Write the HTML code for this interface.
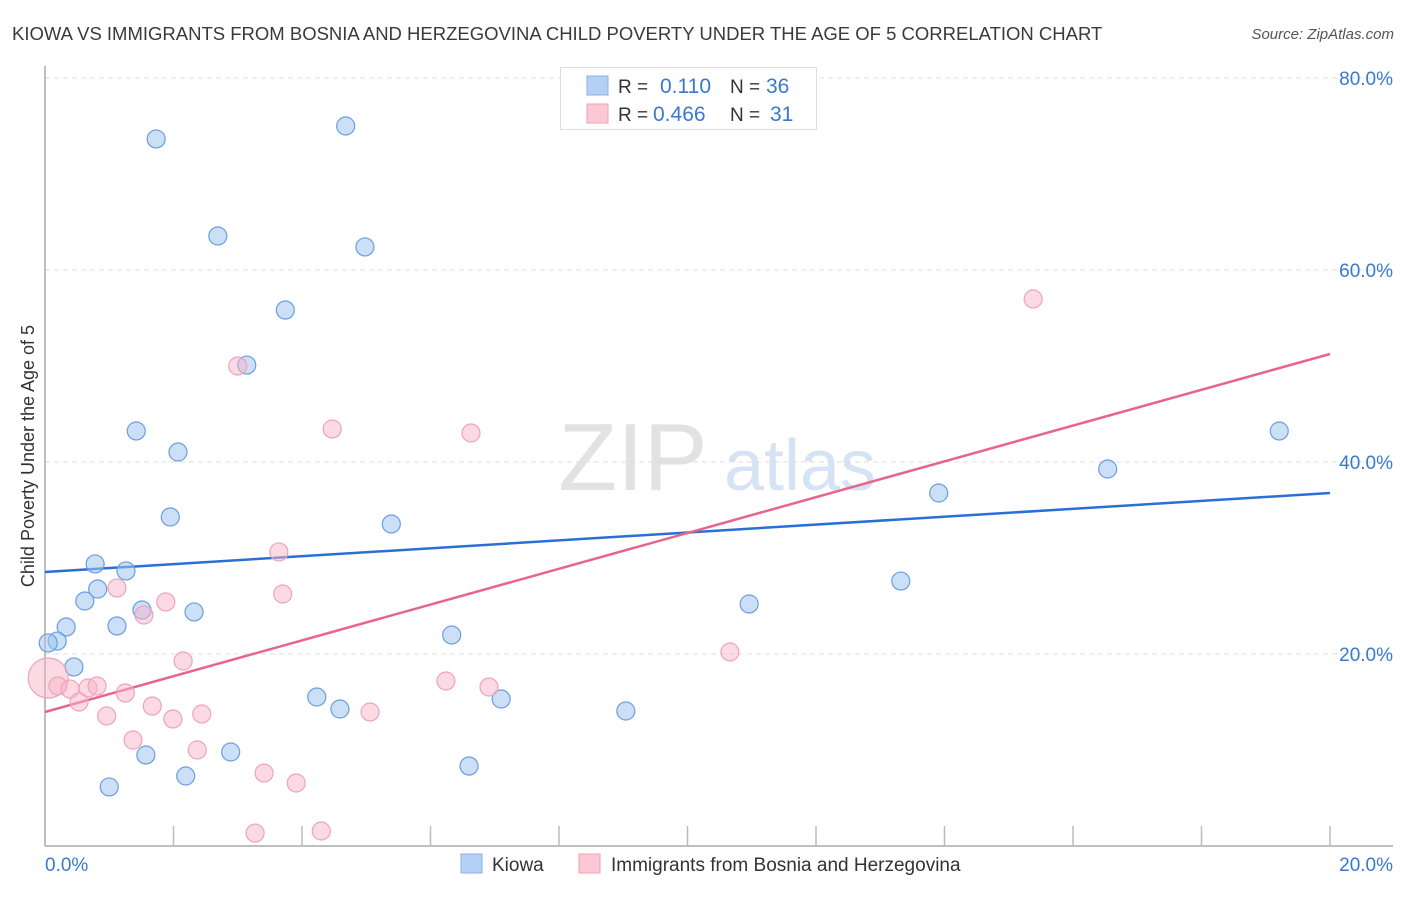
<!DOCTYPE html>
<html><head><meta charset="utf-8"><style>
body{margin:0;background:#fff;font-family:"Liberation Sans",sans-serif;}
svg text{font-family:"Liberation Sans",sans-serif;}
</style></head><body>
<svg id="c" width="1406" height="892" xmlns="http://www.w3.org/2000/svg">
<text x="12" y="40" font-size="18.5" fill="#3a3a3a">KIOWA VS IMMIGRANTS FROM BOSNIA AND HERZEGOVINA CHILD POVERTY UNDER THE AGE OF 5 CORRELATION CHART</text>
<text x="1394" y="39" font-size="15" fill="#555" text-anchor="end" font-style="italic">Source: ZipAtlas.com</text>
<text x="0" y="0" transform="translate(34,456) rotate(-90)" font-size="18" fill="#333" text-anchor="middle">Child Poverty Under the Age of 5</text>
<g><text x="633" y="490" font-size="96" fill="#e2e2e2" font-family="Liberation Serif" text-anchor="middle">ZIP</text><text x="800" y="490" font-size="72" fill="#d6e3f5" text-anchor="middle">atlas</text></g>
<g id="grid"></g><g id="axes"></g><g id="lines"></g><g id="pts"></g>
<g>
<rect x="560.5" y="67.5" width="256" height="62" fill="#fff" stroke="#ddd"/>
<rect x="587" y="76" width="21" height="19" fill="#b5d0f5" stroke="#8ab0e6"/>
<rect x="587" y="104" width="21" height="19" fill="#fbc8d6" stroke="#f0a0b8"/>
<text x="618" y="93" font-size="19" fill="#333">R = </text><text x="660" y="93" font-size="21" fill="#3a78d0">0.110</text>
<text x="730" y="93" font-size="19" fill="#333">N = </text><text x="766" y="93" font-size="21" fill="#3a78d0">36</text>
<text x="618" y="121" font-size="19" fill="#333">R = </text><text x="653" y="121" font-size="21" fill="#3a78d0">0.466</text>
<text x="730" y="121" font-size="19" fill="#333">N = </text><text x="770" y="121" font-size="21" fill="#3a78d0">31</text>
</g>
<g>
<rect x="461" y="854" width="21" height="19" fill="#b5d0f5" stroke="#8ab0e6"/>
<text x="492" y="871" font-size="19" fill="#333">Kiowa</text>
<rect x="579" y="854" width="21" height="19" fill="#fbc8d6" stroke="#f0a0b8"/>
<text x="611" y="871" font-size="19" fill="#333">Immigrants from Bosnia and Herzegovina</text>
</g>
</svg>
<script>
const blueX=[1.73,4.68,2.69,4.98,3.74,3.14,1.42,2.07,1.95,5.39,0.78,1.26,0.82,0.62,1.51,2.32,1.12,0.33,0.19,0.05,0.45,6.33,4.23,4.59,7.10,9.04,1.57,2.19,2.89,6.60,1.0,10.96,13.32,13.91,16.54,19.21];
const blueY=[73.65,75.0,63.54,62.4,55.83,50.1,43.23,41.04,34.27,33.54,29.38,28.65,26.77,25.52,24.58,24.38,22.92,22.81,21.35,21.15,18.65,21.98,15.52,14.27,15.31,14.06,9.48,7.29,9.79,8.33,6.15,25.21,27.6,36.77,39.27,43.23];
const pinkX=[3.0,4.47,6.63,15.38,3.64,1.12,1.88,1.54,3.70,2.15,10.66,0.05,0.2,0.39,0.67,0.81,1.25,0.53,1.67,0.96,1.99,2.44,6.24,6.91,5.06,1.37,2.37,3.41,3.91,3.27,4.30];
const pinkY=[50.0,43.44,43.02,56.98,30.63,26.88,25.42,24.06,26.25,19.27,20.21,17.5,16.67,16.35,16.46,16.67,15.94,15.0,14.58,13.54,13.23,13.75,17.19,16.56,13.96,11.04,10.0,7.6,6.56,1.35,1.56];
const blueTrend=[28.54,36.77];
const pinkTrend=[13.96,51.25];
const yTicks=[20,40,60,80];
const yTickLabels=["20.0%","40.0%","60.0%","80.0%"];
const xTickCount=10;
const xLabels=["0.0%","20.0%"];
const NS="http://www.w3.org/2000/svg";
const sx=v=>45+v*64.25, sy=v=>846-v*9.6;
function mk(t,a,p){const e=document.createElementNS(NS,t);for(const k in a)e.setAttribute(k,a[k]);document.getElementById(p).appendChild(e);return e;}
yTicks.forEach((t,i)=>{
 const l=mk('line',{x1:45,x2:1393,y1:sy(t),y2:sy(t),stroke:'#ddd','stroke-dasharray':'5,4'},'grid');
 
 
 const tx=mk('text',{x:1393,y:sy(t)+7,'font-size':19,fill:'#3a78d0','text-anchor':'end'},'grid');
 tx.textContent=yTickLabels[i];
 
 
});
mk('line',{x1:45,x2:45,y1:66,y2:846,stroke:'#aaa','stroke-width':1.5},'axes');
mk('line',{x1:45,x2:1393,y1:846,y2:846,stroke:'#aaa','stroke-width':1.5},'axes');
for(let i=1;i<=xTickCount;i++){const l=mk('line',{x1:sx(i*2),x2:sx(i*2),y1:826,y2:846,stroke:'#bbb','stroke-width':1.5},'axes');
 
 }
[0,20].forEach((v,i)=>{const t=mk('text',{x:i?1393:45,y:871,'font-size':19,fill:'#3a78d0','text-anchor':i?'end':'start'},'axes');t.textContent=xLabels[i];
 
 });
const lb=mk('line',{x1:sx(0),x2:sx(20),y1:sy(blueTrend[0]),y2:sy(blueTrend[1]),stroke:'#2a6fd6','stroke-width':2.5},'lines');


const lp=mk('line',{x1:sx(0),x2:sx(20),y1:sy(pinkTrend[0]),y2:sy(pinkTrend[1]),stroke:'#e8648e','stroke-width':2.5},'lines');


blueX.forEach((x,i)=>{const c=mk('circle',{cx:sx(x),cy:sy(blueY[i]),r:9,fill:'rgba(160,196,240,0.55)',stroke:'#6b9de2','stroke-width':1.2},'pts');
 
 });
pinkX.forEach((x,i)=>{const c=mk('circle',{cx:sx(x),cy:sy(pinkY[i]),r:i==11?20:9,fill:'rgba(248,182,202,0.5)',stroke:'#f0a2ba','stroke-width':1.2},'pts');
 
 });
</script>
</body></html>
